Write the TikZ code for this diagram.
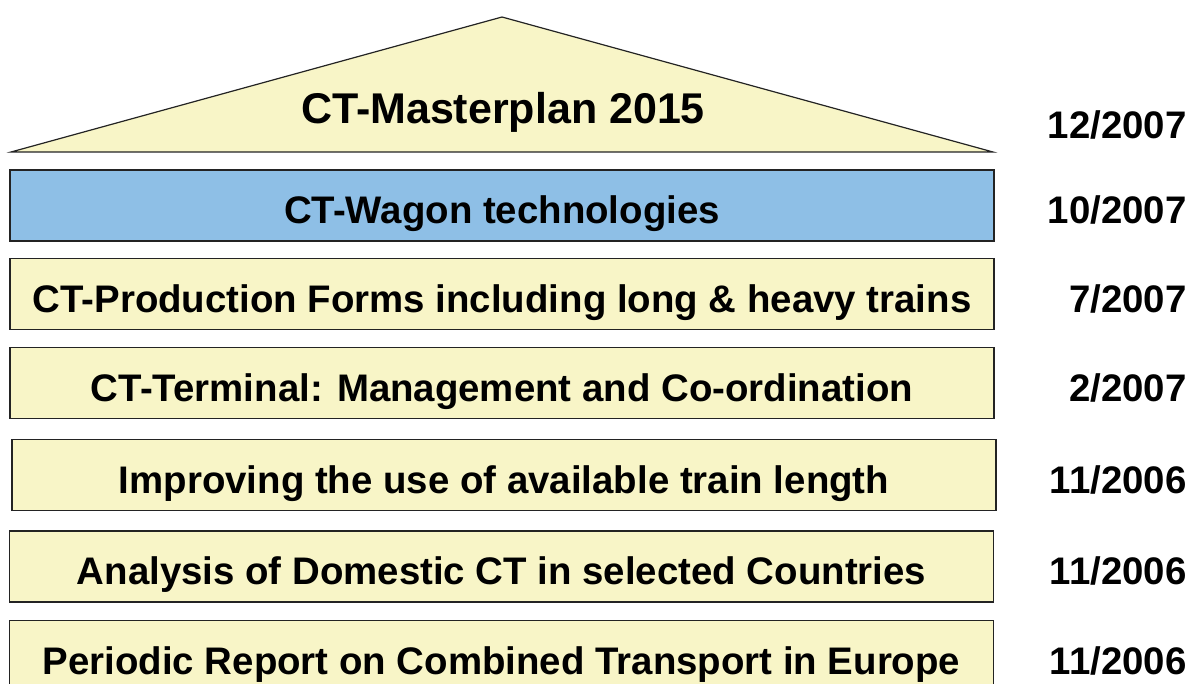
\documentclass[tikz,border=0pt]{standalone}
\usepackage{fontspec}
\setmainfont{Liberation Sans}
\usetikzlibrary{positioning}

\definecolor{paleyellow}{RGB}{248,245,199}
\definecolor{wagonblue}{RGB}{142,191,230}
\definecolor{edgegray}{RGB}{35,35,35}

\begin{document}
\begin{tikzpicture}[x=0.5pt, y=-0.5pt,
    every node/.style={font=\fontsize{19.2}{23}\bfseries\selectfont, text height=18pt, text depth=0pt},
    bar/.style={draw=edgegray, line width=0.7pt, fill=paleyellow, minimum width=492pt, minimum height=35.5pt, inner sep=0pt},
    date/.style={anchor=east, inner sep=0pt}]
    \useasboundingbox (0,0) rectangle (1198,684);

    % roof
    \draw[draw=edgegray, line width=0.6pt, fill=paleyellow] (11,152) -- (502,17) -- (993,152) -- cycle;
        \node[inner sep=0pt, font=\fontsize{21.5}{25}\bfseries\selectfont] (master) at (503,106) {CT-Masterplan 2015};

    % the studies, newest on top
    \node[bar, fill=wagonblue] (wagon) at (502,205.5) {CT-Wagon technologies};
    \node[bar] (prodforms) at (502,294) {CT-Production Forms including long \& heavy trains};
    \node[bar] (terminal) at (502,383) {CT-Terminal: Management and Co-ordination};
    \node[bar] (trainlen) at (504,475) {Improving the use of available train length};
    \node[bar] (domestic) at (501.5,566.5) {Analysis of Domestic CT in selected Countries};
    \node[bar] (report) at (501.5,656) {Periodic Report on Combined Transport in Europe};

    % dates
    \coordinate (datecol) at (1187,0);
    \node[date] (dmaster) at (datecol |- 0,121) {12/2007};
    \node[date] (dwagon) at (datecol |- wagon) {10/2007};
    \node[date] (dprod) at (datecol |- prodforms) {7/2007};
    \node[date] (dterm) at (datecol |- terminal) {2/2007};
    \node[date] (dtrain) at (datecol |- trainlen) {11/2006};
    \node[date] (ddom) at (datecol |- domestic) {11/2006};
    \node[date] (dreport) at (datecol |- report) {11/2006};
\end{tikzpicture}
\end{document}
